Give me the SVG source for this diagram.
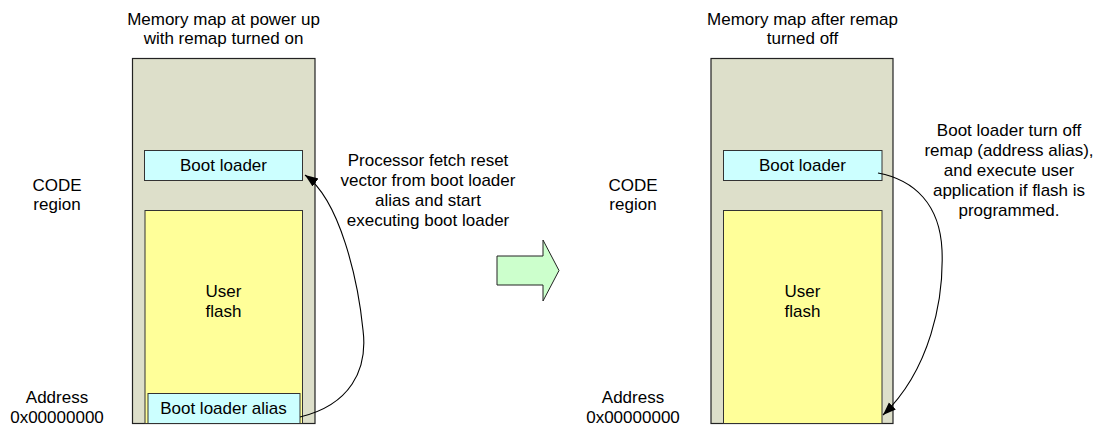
<svg xmlns="http://www.w3.org/2000/svg" width="1095" height="428" viewBox="0 0 1095 428">
<defs>
<style>
text{font-family:"Liberation Sans",Arial,sans-serif;font-size:17px;fill:#000;text-anchor:middle}
.map{fill:#dddfca;stroke:#222;stroke-width:1.2}
.flash{fill:#ffff99;stroke:#333;stroke-width:1}
.boot{fill:#ccffff;stroke:#333;stroke-width:1}
.conn{fill:none;stroke:#000;stroke-width:1.1}
</style>
<marker id="ah" markerUnits="userSpaceOnUse" markerWidth="14" markerHeight="11" refX="13" refY="5" orient="auto">
<path d="M0,0 L13,5 L0,10 z" fill="#000"/>
</marker>
</defs>
<rect width="1095" height="428" fill="#fff"/>

<g id="left-map">
<text x="223.5" y="25">Memory map at power up</text>
<text x="223.5" y="44">with remap turned on</text>
<rect class="map" x="132.5" y="58.5" width="182.5" height="365"/>
</g>
<g id="left-bootloader">
<rect class="boot" x="144.5" y="150.5" width="158" height="30"/>
<text x="223.5" y="171">Boot loader</text>
</g>
<g id="left-flash">
<rect class="flash" x="145" y="210.5" width="157.5" height="213"/>
<text x="223.5" y="297">User</text>
<text x="223.5" y="317">flash</text>
</g>
<g id="left-alias">
<rect class="boot" x="148" y="393.5" width="152" height="30"/>
<text x="223.5" y="414">Boot loader alias</text>
</g>
<g id="left-labels">
<text x="57" y="191">CODE</text>
<text x="57" y="210">region</text>
<text x="57" y="403">Address</text>
<text x="57" y="423">0x00000000</text>
</g>
<g id="left-note">
<text x="428" y="166">Processor fetch reset</text>
<text x="428" y="186">vector from boot loader</text>
<text x="428" y="206">alias and start</text>
<text x="428" y="226">executing boot loader</text>
</g>

<g id="transition-arrow">
<polygon points="497,256 543,256 543,240 559,270.5 543,301 543,285 497,285" fill="#ccffcc" stroke="#222" stroke-width="1"/>
</g>

<g id="right-map">
<text x="802.5" y="25">Memory map after remap</text>
<text x="802.5" y="44">turned off</text>
<rect class="map" x="711" y="58.5" width="182" height="365"/>
</g>
<g id="right-bootloader">
<rect class="boot" x="723.5" y="150.5" width="158.5" height="30"/>
<text x="802.5" y="171">Boot loader</text>
</g>
<g id="right-flash">
<rect class="flash" x="723.5" y="210.5" width="158.5" height="213"/>
<text x="802.5" y="297">User</text>
<text x="802.5" y="317">flash</text>
</g>
<g id="right-labels">
<text x="633" y="191">CODE</text>
<text x="633" y="210">region</text>
<text x="633" y="403">Address</text>
<text x="633" y="423">0x00000000</text>
</g>
<g id="right-note">
<text x="1009" y="136">Boot loader turn off</text>
<text x="1009" y="156">remap (address alias),</text>
<text x="1009" y="176">and execute user</text>
<text x="1009" y="196">application if flash is</text>
<text x="1009" y="216">programmed.</text>
</g>

<g id="connectors">
<path class="conn" d="M300,417 C350,405 368,370 363,330 C358,280 340,200 305,175" marker-end="url(#ah)"/>
<path class="conn" d="M878,173 C915,180 940,205 942,250 C944,300 930,370 883,415" marker-end="url(#ah)"/>
</g>
</svg>
